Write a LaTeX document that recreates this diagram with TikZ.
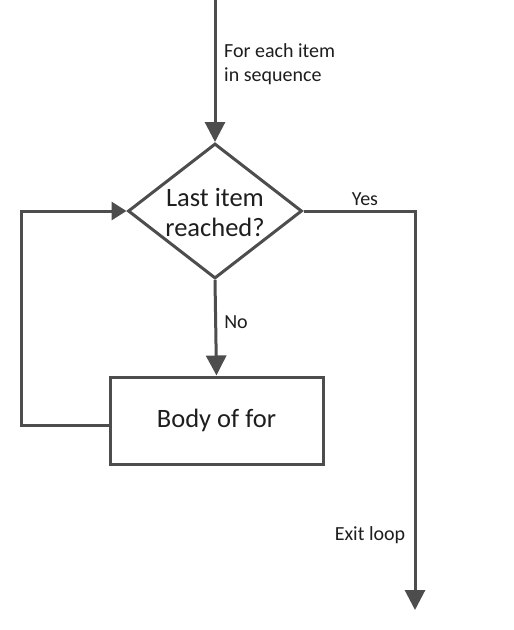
\documentclass[tikz,border=0pt]{standalone}
\usepackage{fontspec}
\setmainfont{Carlito}
\usetikzlibrary{arrows.meta,shapes.geometric}
\definecolor{ln}{HTML}{4D4D4D}
\definecolor{tx}{HTML}{1E1E1E}
\tikzset{
  conn/.style={draw=ln, line width=3pt},
  arr/.style={conn, -{Triangle[length=20pt,width=20pt]}},
  lbl/.style={text=tx, font=\fontsize{20}{24.5}\selectfont, inner sep=0pt},
  bigtxt/.style={text=tx, font=\fontsize{26.5}{30}\selectfont},
}
\begin{document}
\begin{tikzpicture}[x=1pt,y=-1pt]
\useasboundingbox[fill=white] (0,0) rectangle (514,630);
\node[draw=ln, line width=3pt, diamond, minimum width=174pt, minimum height=135pt, inner sep=0pt] (dec) at (215,211) {};
\node[bigtxt, align=center, inner sep=0pt] (dectxt) at (215,212) {Last item\\reached?};
\node[draw=ln, line width=3pt, rectangle, minimum width=213pt, minimum height=87pt, bigtxt] (body) at (216.5,420.5) {Body of for};
\coordinate (top) at (215,0);
\coordinate (yesc) at (415,211);
\coordinate (exitend) at (415,610);
\coordinate (loopb) at (21,425);
\coordinate (loopt) at (21,211);
\draw[arr] (top) -- (dec.north);
\draw[arr] (dec.south) -- (body.north);
\draw[arr] (dec.east) -- (yesc) -- (exitend);
\draw[conn, -{Triangle[length=15pt,width=18pt]}] (body.west |- loopb) -- (loopb) -- (loopt) -- (dec.west);
\node[lbl, anchor=west, align=left] (lfor) at (224,64) {For each item\\in sequence};
\node[lbl] (lyes) at (365,199) {Yes};
\node[lbl] (lno) at (236,322) {No};
\node[lbl] (lexit) at (370,535) {Exit loop};
\end{tikzpicture}
\end{document}
